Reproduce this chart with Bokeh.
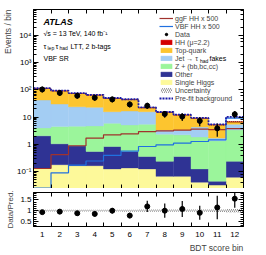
import numpy as np
from bokeh.plotting import figure
from bokeh.layouts import column
from bokeh.models import (ColumnDataSource, Range1d, FixedTicker, LinearAxis, LogAxis,
                          Legend, LegendItem, Label, Title, CustomJSTickFormatter)
from bokeh.embed import file_html
from bokeh.resources import INLINE

FONT = "Liberation Sans"

# ---------------- data ----------------
bins = list(range(1, 13))
single_higgs = [0.137, 0.18, 0.166, 0.166, 0.126, 0.137, 0.126, 0.067, 0.067, 0.041, 0.032, 0.062]
other = [1.92, 0.87, 0.72, 0.385, 0.71, 0.414, 0.235, 0.171, 0.294, 0.085, 0.0125, 0.176]
z_hf = [1.98, 3.45, 3.77, 4.23, 5.15, 4.64, 5.15, 2.14, 1.88, 1.76, 1.31, 3.17]
jet_fakes = [38.4, 25.8, 19.5, 18.2, 9.9, 11.6, 10.4, 1.03, 1.17, 2.5, 0.35, 2.1]
top_quark = [71, 62, 50, 41.5, 33, 27.5, 6.3, 11.7, 8.6, 4.7, 3.5, 1.2]
hh_signal = [0.001, 0.002, 0.004, 0.008, 0.01, 0.012, 0.016, 0.017, 0.019, 0.021, 0.022, 0.055]
prefit_bkg = [116, 95, 77, 66, 50.5, 45.5, 23, 15.5, 12.3, 9.4, 5.4, 10.2]
ggf_hh_x500 = [0.13, 0.42, 0.89, 1.7, 2.24, 2.44, 2.96, 3.13, 3.32, 3.62, 3.5, 3.8]
vbf_hh_x500 = [0.025, 0.09, 0.173, 0.246, 0.394, 0.569, 0.838, 0.966, 1.11, 1.28, 1.47, 9.3]
data = [104, 78, 61, 51.5, 45, 29.5, 26.3, 13.1, 10.5, 7.3, 3.9, 12.8]
data_err = [10.2, 8.8, 7.8, 7.2, 6.7, 5.4, 5.1, 3.6, 3.2, 2.7, 2.0, 3.6]
ratio = [0.93, 0.955, 0.88, 0.85, 1.0, 0.77, 1.2, 1.0, 1.08, 0.9, 1.15, 1.56]
ratio_err = [0.09, 0.1, 0.11, 0.12, 0.13, 0.13, 0.26, 0.33, 0.37, 0.33, 0.55, 0.42]
unc_rel = [0.04, 0.04, 0.04, 0.04, 0.04, 0.045, 0.05, 0.05, 0.05, 0.05, 0.06, 0.08]

# ---------------- derived ----------------
centers = np.array(bins, dtype=float)
edges = np.append(centers - 0.5, centers[-1] + 0.5)
left, right = edges[:-1], edges[1:]

C_SH, C_OTH, C_Z, C_FAKE, C_TOP, C_HH = "#fdf99a", "#2f3394", "#9bf59b", "#a3cdf3", "#fdc52f", "#d40000"
C_GGF, C_VBF, C_PRE = "#a0322d", "#2070e0", "#1a1aa8"

blank_fmt = CustomJSTickFormatter(code="return '';")

W = 255
TOP = 9
p = figure(width=W, height=181 + TOP - 2, x_range=Range1d(edges[0], edges[-1]), y_range=Range1d(0.024, 9e4),
           y_axis_type="log", output_backend="svg", toolbar_location=None,
           min_border_left=27, min_border_right=12, min_border_top=TOP, min_border_bottom=0)
p.grid.visible = False
p.outline_line_color = "black"
p.background_fill_color = "white"


def tick_style(ax, labels=True, size="8px"):
    ax.major_tick_in = 5
    ax.major_tick_out = 0
    ax.minor_tick_in = 3
    ax.minor_tick_out = 0
    ax.axis_line_color = "black"
    ax.major_tick_line_color = "black"
    ax.minor_tick_line_color = "black"
    ax.major_label_text_font = FONT
    ax.major_label_text_color = "black"
    ax.major_label_text_font_size = size
    if labels:
        ax.major_label_standoff = 2
    else:
        ax.formatter = blank_fmt
        ax.major_label_standoff = 0


log_fmt = CustomJSTickFormatter(code="""
const e = Math.round(Math.log10(tick));
if (e === 0) return "1";
if (e === 1) return "10";
const sup = {"-": "\u207b", "0": "\u2070", "1": "\u00b9", "2": "\u00b2", "3": "\u00b3", "4": "\u2074",
             "5": "\u2075", "6": "\u2076", "7": "\u2077", "8": "\u2078", "9": "\u2079"};
return "10" + String(e).split("").map(c => sup[c]).join("");
""")

p.yaxis[0].formatter = log_fmt
tick_style(p.yaxis[0])
ry = LogAxis()
tick_style(ry, labels=False)
p.add_layout(ry, "right")

edge_ticker = FixedTicker(ticks=list(edges[1:-1]), minor_ticks=[])
p.xaxis[0].ticker = edge_ticker
tick_style(p.xaxis[0], labels=False)
p.xaxis[0].major_tick_in = 4
tx = LinearAxis(ticker=edge_ticker)
tick_style(tx, labels=False)
tx.major_tick_in = 4
p.add_layout(tx, "above")

p.add_layout(Title(text="Events / bin", align="right", text_font=FONT, text_font_size="8.5px",
                   text_font_style="normal", standoff=1, offset=0), "left")

# stacked backgrounds
layers = [(single_higgs, C_SH), (other, C_OTH), (z_hf, C_Z), (jet_fakes, C_FAKE), (top_quark, C_TOP), (hh_signal, C_HH)]
cum = np.zeros(len(bins))
rend = []
for vals, col in layers:
    bottom = cum.copy()
    cum = cum + np.array(vals)
    src = ColumnDataSource(dict(left=left, right=right, bottom=np.where(bottom > 0, bottom, 1e-3), top=cum.copy()))
    rend.append(p.quad(left="left", right="right", bottom="bottom", top="top", source=src,
                       fill_color=col, line_color=col, line_width=0.4))
total = cum.copy()
unc = np.array(unc_rel)
unc_r = p.quad(left=left, right=right, bottom=total * (1 - unc), top=total * (1 + unc),
               fill_alpha=0, line_alpha=0, hatch_pattern="/", hatch_color="black", hatch_alpha=0.7,
               hatch_scale=4, hatch_weight=0.6)


def step_y(vals):
    return list(vals) + [vals[-1]]


ggf_r = p.step(x=edges, y=step_y(ggf_hh_x500), mode="after", line_color=C_GGF, line_width=1.2)
vbf_r = p.step(x=edges, y=step_y(vbf_hh_x500), mode="after", line_color=C_VBF, line_width=1.2)
pre_r = p.step(x=edges, y=step_y(prefit_bkg), mode="after", line_color=C_PRE, line_width=1.8, line_dash="2 1")

d = np.array(data)
de = np.array(data_err)
p.segment(x0=centers, y0=d - de, x1=centers, y1=d + de, line_color="black", line_width=1.2)
dash_r = p.scatter(x=centers, y=d, marker="dash", angle=np.pi / 2, size=6, line_color="black", line_width=1.2)
data_r = p.scatter(x=centers, y=d, size=5, color="black")

items = [
    LegendItem(label="ggF HH x 500", renderers=[ggf_r]),
    LegendItem(label="VBF HH x 500", renderers=[vbf_r]),
    LegendItem(label="Data", renderers=[data_r, dash_r]),
    LegendItem(label="HH (\u03bc=2.2)", renderers=[rend[5]]),
    LegendItem(label="Top-quark", renderers=[rend[4]]),
    LegendItem(label="Jet \u2192 \u03c4", renderers=[rend[3]]),
    LegendItem(label="Z + (bb,bc,cc)", renderers=[rend[2]]),
    LegendItem(label="Other", renderers=[rend[1]]),
    LegendItem(label="Single Higgs", renderers=[rend[0]]),
    LegendItem(label="Uncertainty", renderers=[unc_r]),
    LegendItem(label="Pre-fit background", renderers=[pre_r]),
]
FTOP, FBOT, FLEFT = 10, 189, 35   # target frame edges in page pixels
leg = Legend(items=items, location=(161 - FLEFT, FBOT - 15 - 88), label_text_font=FONT, label_text_font_size="7px",
             glyph_width=14, glyph_height=6, label_height=8, label_standoff=2, spacing=0,
             padding=0, margin=0, border_line_alpha=0, background_fill_alpha=0)
p.add_layout(leg, "center")


def lab(text, x, y, size="7px", style="normal"):
    p.add_layout(Label(x=x - FLEFT, y=FBOT - y, x_units="screen", y_units="screen", text=text,
                       text_font=FONT, text_font_size=size, text_font_style=style,
                       text_baseline="middle", text_color="black"))


lab("ATLAS", 45, 22, size="9px", style="bold italic")
lab("\u221as = 13 TeV, 140 fb\u207b\u00b9", 45, 34)
lab("\u03c4", 45, 46.5)
lab("lep", 49, 48.5, size="5px")
lab("\u03c4", 57, 46.5)
lab("had", 61, 48.5, size="5px")
lab("LTT, 2 b-tags", 72, 46.5)
lab("VBF SR", 45, 59)
lab("had", 201.5, 61.5, size="5px")
lab("fakes", 211, 59.3)

# ---------------- ratio panel ----------------
r = figure(width=W, height=66, x_range=p.x_range, y_range=Range1d(0.26, 1.85),
           output_backend="svg", toolbar_location=None,
           min_border_left=27, min_border_right=12, min_border_top=4, min_border_bottom=27)
r.grid.visible = False
r.outline_line_color = "black"

r.quad(left=left, right=right, bottom=1 - unc, top=1 + unc, fill_alpha=0, line_alpha=0,
       hatch_pattern="/", hatch_color="black", hatch_alpha=0.7, hatch_scale=4, hatch_weight=0.6)
rt = np.array(ratio)
rte = np.array(ratio_err)
r.segment(x0=centers, y0=rt - rte, x1=centers, y1=rt + rte, line_color="black", line_width=1.2)
r.scatter(x=centers, y=rt, size=5, color="black")

bin_ticker = FixedTicker(ticks=bins, minor_ticks=list(edges[1:-1]))
r.xaxis[0].ticker = bin_ticker
tick_style(r.xaxis[0])
r.xaxis[0].major_tick_in = 0
r.xaxis[0].minor_tick_in = 4
r.xaxis[0].major_label_standoff = 5
tr = LinearAxis(ticker=bin_ticker)
tick_style(tr, labels=False)
tr.major_tick_in = 0
tr.minor_tick_in = 4
r.add_layout(tr, "above")

ratio_ticker = FixedTicker(ticks=[0.5, 1.0, 1.5],
                           minor_ticks=[0.3, 0.4, 0.6, 0.7, 0.8, 0.9, 1.1, 1.2, 1.3, 1.4, 1.6, 1.7, 1.8])
r.yaxis[0].ticker = ratio_ticker
r.yaxis[0].formatter = CustomJSTickFormatter(code="return String(Math.round(tick*10)/10);")
tick_style(r.yaxis[0])
r.yaxis[0].axis_label = "Data/Pred."
r.yaxis[0].axis_label_text_font = FONT
r.yaxis[0].axis_label_text_font_size = "8px"
r.yaxis[0].axis_label_text_font_style = "normal"
r.yaxis[0].axis_label_standoff = 2
rr = LinearAxis(ticker=ratio_ticker)
tick_style(rr, labels=False)
r.add_layout(rr, "right")

r.add_layout(Title(text="BDT score bin", align="right", text_font=FONT, text_font_size="8.5px",
                   text_font_style="normal", standoff=3, offset=0), "below")

layout = column(p, r, spacing=0)
open("out.html", "w").write(file_html(layout, INLINE))
